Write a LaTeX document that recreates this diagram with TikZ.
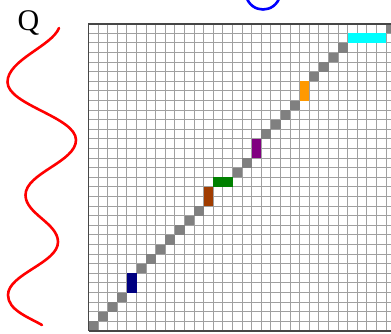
\documentclass[tikz,border=0pt]{standalone}
\usepackage{fontspec}
\setmainfont{Liberation Serif}
\definecolor{gridgray}{RGB}{160,160,160}
\definecolor{bordergray}{RGB}{70,70,70}
\definecolor{cellgray}{RGB}{128,128,128}
\definecolor{cnavy}{RGB}{0,0,128}
\definecolor{cbrown}{RGB}{160,60,0}
\definecolor{cgreen}{RGB}{0,128,0}
\definecolor{cpurple}{RGB}{128,0,128}
\definecolor{corange}{RGB}{255,153,0}
\definecolor{ccyan}{RGB}{0,255,255}
\tikzset{
  gridline/.style={draw=gridgray, line width=1.1pt},
  borderline/.style={draw=bordergray, line width=1.6pt},
  wave/.style={line width=2.6pt, line cap=round},
}
\begin{document}
\begin{tikzpicture}[x=1pt,y=-1pt]
\useasboundingbox (0,0) rectangle (391,333);
\clip (0,0) rectangle (391,333);
\def\gx{88.5}
\def\gy{23.7}
\def\gp{9.6}
% grid
\fill[white] (\gx,\gy) rectangle ({\gx+32*\gp},{\gy+32*\gp});
\foreach \i in {0,...,32}{
  \draw[gridline] ({\gx+\i*\gp},\gy) -- ({\gx+\i*\gp},{\gy+32*\gp});
  \draw[gridline] (\gx,{\gy+\i*\gp}) -- ({\gx+32*\gp},{\gy+\i*\gp});
}
% diagonal gray cells
\foreach \c/\r in {0/31,1/30,2/29,3/28,5/25,6/24,7/23,8/22,9/21,10/20,11/19,15/15,16/14,18/11,19/10,20/9,21/8,23/5,24/4,25/3,26/2,31/0}{
  \fill[cellgray] ({\gx+\c*\gp},{\gy+\r*\gp}) rectangle +(\gp,\gp);
}
% coloured blocks
\foreach \col/\c/\r/\w/\h in {cnavy/4/26/1/2, cbrown/12/17/1/2, cgreen/13/16/2/1, cpurple/17/12/1/2, corange/22/6/1/2, ccyan/27/1/4/1}{
  \fill[\col] ({\gx+\c*\gp},{\gy+\r*\gp}) rectangle +({\w*\gp},{\h*\gp});
}
% border
\draw[borderline] (\gx,{\gy+32*\gp}) -- (\gx,\gy) -- ({\gx+32*\gp},\gy);
\draw[borderline] (\gx,{\gy+32*\gp}) -- ({\gx+32*\gp},{\gy+32*\gp});
% label
\node[anchor=base west, inner sep=0pt, font=\fontsize{30}{30}\selectfont] (q) at (17.5,30.5) {Q};
% red wave
\draw[wave, red] (59,28) .. controls (52,46) and (7.5,60) .. (7.5,82)
  .. controls (7.5,105) and (76,117) .. (76,140)
  .. controls (76,162) and (25.5,173) .. (25.5,195)
  .. controls (25.5,214) and (58,223) .. (58,242)
  .. controls (58,263) and (8,274) .. (8,295)
  .. controls (8,310) and (28,317) .. (42,325);
% blue wave
\draw[wave, blue] (246,-4) .. controls (251,14) and (275,14) .. (280,-4);
\end{tikzpicture}
\end{document}
